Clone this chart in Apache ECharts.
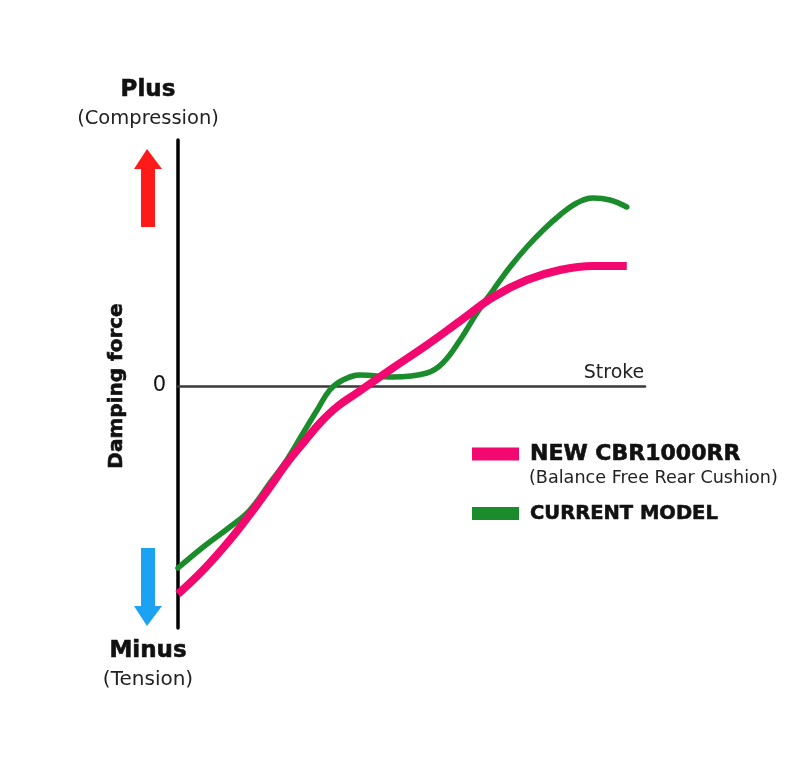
<!DOCTYPE html>
<html>
<head>
<meta charset="utf-8">
<script src="https://cdn.jsdelivr.net/npm/echarts@6/dist/echarts.min.js"></script>
<style>html,body{margin:0;padding:0;background:#fff}#c{width:805px;height:783px}</style>
</head>
<body>
<div id="c"></div>
<script>
// Stroke positions (0..100) and damping force readings (arbitrary units, 0 = zero line)
var strokeNew = [0, 5.4, 11.1, 16.1, 19.7, 23.3, 26.8, 30.4, 34, 38.3, 46, 53.3, 60.4, 67.5, 74.7, 81.8, 88.9, 96.1];
var forceNew  = [-104, -92, -77, -62, -50.5, -38.5, -28.5, -18.5, -10.5, -3.5, 9, 20.5, 32.5, 44.5, 53, 58, 60, 60];
var strokeCur = [0, 5.4, 11.1, 15.4, 19.7, 23.3, 26.8, 29.8, 32.5, 35.3, 39, 46, 53.3, 56.7, 60.4, 64, 67.5, 71.1, 74.7, 78.2, 81.8, 85.4, 88.9, 92.5, 96.1];
var forceCur  = [-91, -80.5, -70.5, -62, -48.5, -37, -23.5, -12, -2, 3, 5.5, 4.5, 6.5, 11.5, 23, 36.5, 48, 59.5, 69.5, 78, 85.5, 91.5, 94, 93, 89.5];
var yTickLabels = [0];
var seriesNames = ['NEW CBR1000RR', 'CURRENT MODEL'];

function pairs(xs, ys) { return xs.map(function (x, i) { return [x, ys[i]]; }); }

var chart = echarts.init(document.getElementById('c'), null, {renderer: 'canvas'});
var SANS = '"DejaVu Sans", "Liberation Sans", Arial, sans-serif';
function boldText(x, y, text, size, rot) {
  var el = {type: 'text', x: x, y: y, style: {text: text, font: 'bold ' + size + 'px ' + SANS, fill: '#111',
    stroke: '#111', lineWidth: 0.6, align: 'center', verticalAlign: 'middle'}};
  if (rot) el.rotation = rot;
  return el;
}
chart.setOption({
  animation: false,
  backgroundColor: '#fff',
  grid: {left: 178, right: 160, top: 140, bottom: 155, containLabel: false},
  xAxis: {
    type: 'value', min: 0, max: 100,
    axisLine: {show: true, onZero: true, lineStyle: {color: '#3a3a3a', width: 2.5}},
    axisTick: {show: false}, axisLabel: {show: false}, splitLine: {show: false}
  },
  yAxis: {
    type: 'value', min: -121, max: 123,
    axisLine: {show: true, lineStyle: {color: '#000', width: 3.5}},
    axisTick: {show: false}, splitLine: {show: false},
    axisLabel: {show: true, customValues: yTickLabels, margin: 12,
      color: '#111', fontSize: 21, fontFamily: SANS}
  },
  legend: [
    {data: [seriesNames[0]], left: 472, top: 442, padding: 0, icon: 'rect', itemWidth: 47, itemHeight: 13,
      textStyle: {fontFamily: SANS, fontWeight: 'bold', fontSize: 22, lineHeight: 24, color: '#111',
        textBorderColor: '#111', textBorderWidth: 0.6, padding: [0,0,0,6]}, selectedMode: false},
    {data: [seriesNames[1]], left: 472, top: 503, padding: 0, icon: 'rect', itemWidth: 47, itemHeight: 13,
      textStyle: {fontFamily: SANS, fontWeight: 'bold', fontSize: 19.5, lineHeight: 21, color: '#111',
        textBorderColor: '#111', textBorderWidth: 0.6, padding: [0,0,0,6]}, selectedMode: false}
  ],
  series: [
    {name: seriesNames[1], type: 'line', smooth: 0.4, showSymbol: false, data: pairs(strokeCur, forceCur),
      itemStyle: {color: '#1B8C2B'}, lineStyle: {color: '#1B8C2B', width: 5.5, cap: 'round'}},
    {name: seriesNames[0], type: 'line', smooth: 0.4, showSymbol: false, data: pairs(strokeNew, forceNew),
      itemStyle: {color: '#F2086F'}, lineStyle: {color: '#F2086F', width: 8, cap: 'butt'}, z: 3}
  ],
  graphic: [
    boldText(148, 90, 'Plus', 23),
    {type: 'text', x: 148, y: 119, style: {text: '(Compression)', font: '19.5px ' + SANS, fill: '#222', align: 'center', verticalAlign: 'middle'}},
    boldText(148, 651, 'Minus', 23),
    {type: 'text', x: 148, y: 680, style: {text: '(Tension)', font: '20px ' + SANS, fill: '#222', align: 'center', verticalAlign: 'middle'}},
    boldText(117, 386, 'Damping force', 20, Math.PI / 2),
    {type: 'text', x: 614, y: 373, style: {text: 'Stroke', font: '19px ' + SANS, fill: '#222', align: 'center', verticalAlign: 'middle'}},
    {type: 'text', x: 529, y: 478, style: {text: '(Balance Free Rear Cushion)', font: '17.6px ' + SANS, fill: '#222', verticalAlign: 'middle'}},
    {type: 'polygon', shape: {points: [[147,149],[162,169],[155,169],[155,227],[141,227],[141,169],[134,169]]}, style: {fill: '#FF1A1A'}},
    {type: 'polygon', shape: {points: [[147,626],[162,606],[155,606],[155,548],[141,548],[141,606],[134,606]]}, style: {fill: '#1CA2F2'}}
  ]
});
</script>
</body>
</html>
